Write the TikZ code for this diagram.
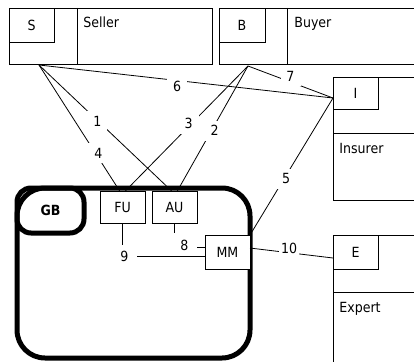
\documentclass[tikz,border=0pt]{standalone}
\usepackage{fontspec}
\setmainfont{DejaVu Sans Condensed}
\begin{document}
\begin{tikzpicture}[x=1pt, y=-1pt, line width=0.8pt, font=\fontsize{14}{17}\selectfont,
        n/.style={draw, fill=white, inner sep=0pt, outer sep=0pt, anchor=north west},
        t/.style={anchor=base west, inner sep=0pt},
        gb/.style={draw, line width=5pt, inner sep=0pt, outer sep=0pt, anchor=north west},
        l/.style={fill=white, inner sep=1pt, minimum size=20pt},
        lc/.style={l, minimum size=24pt}]
            \useasboundingbox (0,0) rectangle (414,361);
            \clip (0,0) rectangle (414,361);

            % actors
            \node[n, minimum width=203pt, minimum height=56pt] (seller) at (9,8) {};
            \node[n, minimum width=45pt, minimum height=34pt] (s) at (9,8) {S};
            \draw (77,8) -- (77,64);
            \node[t] (sellername) at (83,28) {Seller};

            \node[n, minimum width=260pt, minimum height=56pt] (buyer) at (219,8) {};
            \node[n, minimum width=46pt, minimum height=34pt] (b) at (219,8) {B};
            \draw (287,8) -- (287,64);
            \node[t] (buyername) at (294,28) {Buyer};

            \node[n, minimum width=140pt, minimum height=123pt] (insurer) at (333,77) {};
            \node[n, minimum width=45pt, minimum height=32pt] (i) at (333,77) {I};
            \draw (333,133) -- (473,133);
            \node[t] (insurername) at (339,153) {Insurer};

            \node[n, minimum width=140pt, minimum height=160pt] (expert) at (333,235) {};
            \node[n, minimum width=45pt, minimum height=34pt] (e) at (333,235) {E};
            \draw (333,292) -- (473,292);
            \node[t] (expertname) at (339,312) {Expert};

            % GB
            \node[gb, rounded corners=28pt, minimum width=233pt, minimum height=170pt] (gbframe) at (17,188) {};
            \node[gb, rounded corners=14pt, minimum width=67pt, minimum height=45pt] (gbtag) at (17,188) {\textbf{GB}};
            \node[n, minimum width=45pt, minimum height=32pt] (fu) at (100,191) {FU};
            \node[n, minimum width=45pt, minimum height=32pt] (au) at (152,191) {AU};
            \node[n, minimum width=45pt, minimum height=34pt] (mm) at (205,235) {MM};

            \coordinate (sp) at (39,65);
            \coordinate (bp) at (248,66);
            \coordinate (ip) at (333,98);
            \coordinate (ep) at (333,258);

            \draw (sp) -- node[l, pos=.44, yshift=-1pt] {1} (au.100);
            \draw (bp) -- node[l, pos=.5, xshift=2pt, yshift=-2pt] {2} (au.80);
            \draw (bp) -- node[l, pos=.46, xshift=-3pt] {3} (fu.80);
            \draw (sp) -- node[l, pos=.70, xshift=3pt] {4} (fu.100);
            \draw (ip) -- node[l, pos=.59, xshift=2pt] {5} (mm.north east);
            \draw (sp) -- node[l, pos=.47, yshift=-6pt] {6} (ip);
            \draw (bp) -- node[l, pos=.5, yshift=6pt] {7} (ip);
            \draw (au.south) |- node[lc, pos=.5, xshift=10pt, yshift=2pt] {8} (mm.168);
            \draw (fu.south) |- node[lc, pos=.5, xshift=2pt] {9} (mm.192);
            \draw (mm.10) -- node[l, pos=.47, yshift=4pt] {10} (ep);
        \end{tikzpicture}
\end{document}
